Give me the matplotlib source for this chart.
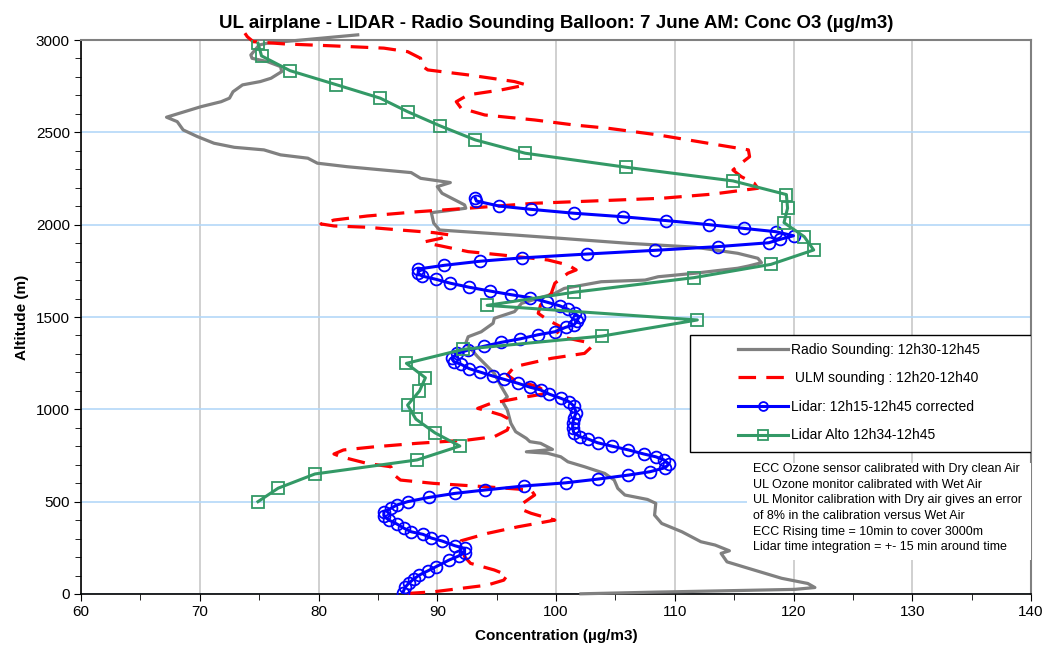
import matplotlib.pyplot as plt
from matplotlib.patches import Rectangle
from matplotlib.ticker import MultipleLocator

plt.rcParams['font.family'] = ['Liberation Sans', 'DejaVu Sans']

# ==============================================
# DATA
# ==============================================
# Radio sounding (grey), bottom -> top
radio_alt = [1, 10, 17, 25, 35, 57, 85, 139, 174, 220, 234, 265, 283, 337, 382, 427,
             491, 512, 536, 572, 617, 653, 689, 716, 743, 762, 770, 783, 816, 825, 843,
             879, 924, 996, 1041, 1068, 1122, 1195, 1285, 1358, 1393, 1420, 1466, 1493,
             1529, 1574, 1628, 1655, 1691, 1700, 1718, 1737, 1764, 1776, 1794, 1818, 1845,
             1878, 1899, 1926, 1944, 1962, 1971, 2008, 2065, 2076, 2089, 2107, 2170, 2206,
             2228, 2251, 2282, 2314, 2333, 2360, 2378, 2405, 2419, 2441, 2477, 2513, 2558,
             2582, 2639, 2666, 2685, 2720, 2757, 2775, 2793, 2829, 2856, 2883, 2901, 2919,
             2973, 2983, 3028]
radio_conc = [102.1, 108.3, 113.9, 120.1, 121.8, 121.2, 119.0, 116.2, 114.4, 113.9, 114.6,
              113.4, 112.2, 110.6, 108.9, 108.3, 108.4, 107.7, 105.8, 105.2, 104.9, 104.1,
              102.4, 101.0, 100.4, 99.3, 97.5, 99.7, 98.7, 97.8, 97.5, 96.6, 96.2, 95.9,
              95.5, 95.9, 95.4, 94.8, 93.4, 92.4, 92.6, 93.7, 94.7, 94.8, 96.5, 97.1, 99.9,
              100.7, 103.8, 107.5, 108.6, 111.7, 115.3, 116.2, 117.3, 117.0, 115.3, 111.7,
              106.1, 100.4, 96.5, 92.3, 90.2, 89.7, 89.5, 90.9, 92.4, 92.3, 90.4, 90.0, 91.1,
              88.6, 87.8, 82.4, 79.9, 79.1, 76.8, 75.4, 72.9, 71.2, 69.8, 68.6, 68.1, 67.2,
              70.1, 71.8, 72.5, 72.8, 73.6, 75.1, 76.0, 76.9, 76.8, 75.7, 74.4, 74.3, 75.0,
              75.7, 83.3]

# ULM sounding (red dashed), bottom -> top
ulm_alt = [3, 12, 48, 75, 102, 130, 166, 202, 247, 288, 328, 364, 400, 437, 458, 491,
           536, 563, 581, 599, 617, 653, 689, 707, 743, 758, 780, 797, 816, 834, 852, 888,
           942, 969, 996, 1005, 1032, 1060, 1087, 1122, 1159, 1186, 1231, 1276, 1303, 1339,
           1366, 1393, 1420, 1447, 1484, 1520, 1565, 1628, 1683, 1737, 1755, 1782, 1809,
           1836, 1854, 1885, 1899, 1908, 1926, 1944, 1957, 1971, 1986, 1993, 2004, 2025,
           2047, 2070, 2089, 2116, 2130, 2143, 2165, 2197, 2224, 2260, 2296, 2333, 2368,
           2405, 2441, 2486, 2522, 2540, 2558, 2567, 2594, 2631, 2666, 2703, 2730, 2757,
           2775, 2811, 2838, 2865, 2901, 2937, 2956, 2968, 2979, 2991, 3018, 3037]
ulm_conc = [87.5, 89.7, 94.2, 95.6, 95.9, 94.8, 92.8, 92.3, 92.1, 92.0, 94.2, 96.8, 99.9,
            97.9, 97.1, 97.2, 98.2, 97.9, 94.0, 89.7, 86.9, 86.2, 86.1, 84.1, 81.9, 81.3,
            82.1, 84.7, 88.3, 92.6, 94.8, 95.9, 96.2, 95.4, 94.0, 93.4, 94.5, 96.8, 99.3,
            98.5, 96.5, 95.9, 96.5, 99.6, 102.4, 103.0, 102.4, 100.4, 100.1, 100.4, 99.3,
            98.5, 98.7, 99.6, 99.9, 101.0, 101.7, 101.0, 99.3, 95.4, 92.6, 90.3, 89.2, 89.0,
            90.3, 91.1, 89.7, 86.9, 84.1, 81.3, 80.2, 81.3, 84.1, 88.3, 92.6, 98.2, 103.8,
            108.9, 113.1, 117.0, 116.7, 115.6, 114.9, 115.6, 116.3, 116.2, 112.8, 108.6,
            104.4, 101.5, 99.3, 98.2, 94.0, 92.0, 91.6, 92.6, 95.4, 97.5, 96.5, 92.6, 89.2,
            88.6, 88.6, 87.5, 85.5, 81.3, 77.1, 74.5, 74.0, 73.8]

# Lidar corrected (blue circles), top -> bottom
lidar_alt = [2143, 2128, 2101, 2083, 2062, 2043, 2022, 2000, 1980, 1962, 1940, 1921, 1902,
             1881, 1861, 1841, 1820, 1802, 1780, 1760, 1737, 1722, 1704, 1683, 1661, 1641,
             1621, 1605, 1581, 1561, 1542, 1520, 1502, 1480, 1457, 1444, 1420, 1404, 1382,
             1363, 1341, 1321, 1303, 1276, 1258, 1244, 1220, 1202, 1180, 1163, 1141, 1120,
             1105, 1083, 1060, 1041, 1018, 982, 951, 924, 897, 873, 852, 839, 819, 801, 780,
             758, 743, 726, 704, 684, 662, 644, 622, 602, 585, 563, 545, 523, 500, 482, 464,
             446, 424, 401, 379, 356, 337, 323, 303, 287, 261, 247, 224, 206, 184, 148, 125,
             103, 80, 58, 37, 8]
lidar_conc = [93.2, 93.3, 95.2, 97.9, 101.5, 105.6, 109.3, 112.9, 115.8, 118.5, 120.0,
              118.9, 117.9, 113.6, 108.3, 102.6, 97.1, 93.6, 90.6, 88.4, 88.4, 88.7, 89.9,
              91.1, 92.7, 94.4, 96.2, 97.8, 99.2, 100.3, 101.0, 101.6, 101.9, 101.8, 101.5,
              100.8, 99.9, 98.5, 97.0, 95.4, 93.9, 92.6, 91.7, 91.2, 91.4, 92.0, 92.7, 93.6,
              94.7, 95.6, 96.8, 97.8, 98.7, 99.4, 100.4, 101.1, 101.5, 101.7, 101.5, 101.4,
              101.4, 101.5, 102.0, 102.7, 103.5, 104.7, 106.1, 107.4, 108.4, 109.1, 109.5,
              109.2, 107.9, 106.1, 103.5, 100.8, 97.3, 94.0, 91.5, 89.3, 87.5, 86.6, 86.1,
              85.5, 85.5, 85.9, 86.6, 87.2, 87.8, 88.8, 89.5, 90.4, 91.5, 92.3, 92.3, 91.8,
              91.0, 89.9, 89.2, 88.5, 88.0, 87.6, 87.3, 87.1]

# Lidar Alto (green squares), top -> bottom
alto_alt = [2983, 2914, 2834, 2758, 2685, 2612, 2536, 2459, 2387, 2311, 2237, 2163, 2089,
            2011, 1935, 1863, 1785, 1713, 1634, 1563, 1484, 1397, 1325, 1249, 1171, 1099,
            1023, 947, 873, 801, 726, 650, 573, 500]
alto_conc = [74.9, 75.2, 77.6, 81.5, 85.2, 87.5, 90.2, 93.2, 97.4, 105.9, 114.9, 119.4,
             119.5, 119.2, 120.9, 121.7, 118.1, 111.6, 101.5, 94.2, 111.9, 103.9, 92.2, 87.4,
             89.0, 88.5, 87.5, 88.2, 89.8, 91.9, 88.3, 79.7, 76.6, 74.9]

labels = ["Radio Sounding: 12h30-12h45", " ULM sounding : 12h20-12h40",
          "Lidar: 12h15-12h45 corrected", "Lidar Alto 12h34-12h45"]

notes = ("ECC Ozone sensor calibrated with Dry clean Air\n"
         "UL Ozone monitor calibrated with Wet Air\n"
         "UL Monitor calibration with Dry air gives an error\n"
         "of 8% in the calibration versus Wet Air\n"
         "ECC Rising time = 10min to cover 3000m\n"
         "Lidar time integration = +- 15 min around time")

# ==============================================
# PLOT
# ==============================================
fig = plt.figure(figsize=(10.43, 6.57), dpi=100)
ax = fig.add_axes([0.0777, 0.0959, 0.9108, 0.8432])

ax.plot(radio_conc, radio_alt, color="#808080", lw=2.3, label=labels[0],
        clip_on=False, zorder=3)
ax.plot(ulm_conc, ulm_alt, color="red", lw=2.3, dashes=(5.5, 3.2), label=labels[1],
        clip_on=False, zorder=3)
ax.plot(lidar_conc, lidar_alt, color="blue", lw=2.2, marker="o", ms=8.5, mfc="none",
        mec="blue", mew=1.3, label=labels[2], zorder=4)
ax.plot(alto_conc, alto_alt, color="#339966", lw=2.2, marker="s", ms=9, mfc="none",
        mec="#339966", mew=1.3, label=labels[3], zorder=4)

ax.set_xlim(60, 140)
ax.set_ylim(0, 3000)
ax.xaxis.set_major_locator(MultipleLocator(10))
ax.xaxis.set_minor_locator(MultipleLocator(5))
ax.yaxis.set_major_locator(MultipleLocator(500))
ax.yaxis.set_minor_locator(MultipleLocator(100))
ax.tick_params(axis="both", which="major", direction="out", length=5, labelsize=11, pad=3)
ax.tick_params(axis="both", which="minor", direction="out", length=4)

ax.grid(axis="x", which="major", color="#c8c8c8", lw=1.2, zorder=0)
ax.grid(axis="y", which="major", color="#b4d8f8", lw=1.2, zorder=0)

for s in ["top", "right"]:
    ax.spines[s].set_color("#808080")
    ax.spines[s].set_linewidth(1.5)
for s in ["left", "bottom"]:
    ax.spines[s].set_linewidth(1.2)

ax.set_title("UL airplane - LIDAR - Radio Sounding Balloon: 7 June AM: Conc O3 (µg/m3)",
             fontsize=13.5, fontweight="bold", pad=9)
ax.set_xlabel("Concentration (µg/m3)", fontsize=11, fontweight="bold", labelpad=7)
ax.set_ylabel("Altitude (m)", fontsize=11, fontweight="bold", labelpad=5)

# legend box
ax.add_patch(Rectangle((0.641, 0.256), 0.359, 0.2115, transform=ax.transAxes,
                       facecolor="white", edgecolor="black", lw=1.0, zorder=6))
leg = ax.legend(loc="upper left", bbox_to_anchor=(0.684, 0.4675), frameon=False,
                fontsize=10, handlelength=3.6, handletextpad=0.15, labelspacing=1.05,
                numpoints=1, borderaxespad=0.15, markerscale=0.75)
leg.set_zorder(7)

# notes with white background up to the right edge
ax.add_patch(Rectangle((0.701, 0.061), 0.299, 0.176, transform=ax.transAxes,
                       facecolor="white", edgecolor="none", zorder=5))
ax.text(0.707, 0.236, notes, transform=ax.transAxes, fontsize=9, va="top", ha="left",
        linespacing=1.4, zorder=6)

fig.savefig("out.png", dpi=100)
